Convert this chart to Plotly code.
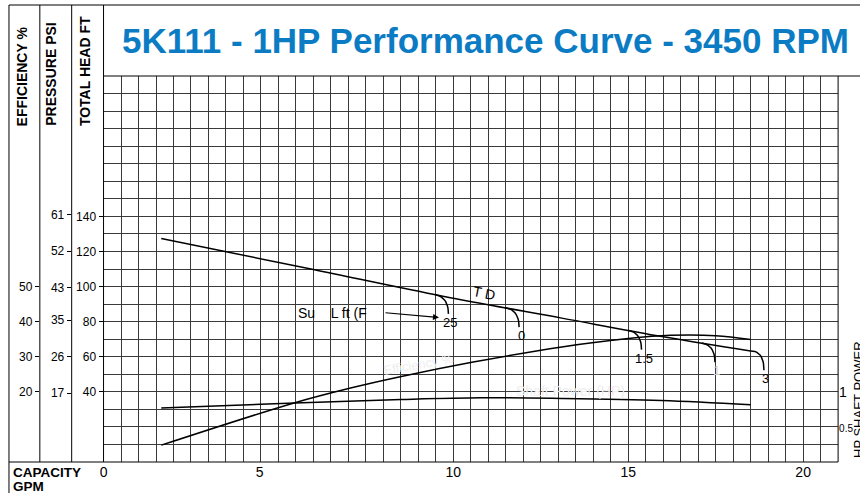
import numpy as np
import plotly.graph_objects as go

# ---------------- data ----------------
# Total dynamic head (ft) vs capacity (GPM)
HEAD_GPM = [1.65, 6.0, 9.7, 13.1, 16.0, 18.5]
HEAD_FT = [127.4, 109.7, 94.5, 82.0, 71.4, 63.3]

# Efficiency (%) vs capacity (GPM)
EFF_GPM = [1.65, 5.47, 7.03, 8.48, 10.53, 13.1, 15.0, 16.2, 17.5, 18.5]
EFF_PCT = [4.8, 16.9, 21.0, 24.3, 28.4, 32.8, 35.2, 36.1, 36.0, 34.9]

# Shaft power (HP) vs capacity (GPM)
HP_GPM = [1.65, 5.47, 8.5, 10.8, 13.1, 15.95, 18.5]
HP_VAL = [0.77, 0.84, 0.89, 0.915, 0.905, 0.875, 0.815]

# Suction-lift hooks on the head curve
HOOK_GPM = [9.48, 11.5, 15.0, 17.1, 18.5]
HOOK_LABELS = ["25", "0", "1.5", "1", "3"]

# axis ticks
X_TICK_VALS = [0, 4.46, 10, 15, 20]
X_TICK_TEXT = ["0", "5", "10", "15", "20"]
HEAD_TICKS = [40, 60, 80, 100, 120, 140]
EFF_TICKS = [20, 30, 40, 50]
PSI_TICKS = [17, 26, 35, 43, 52, 61]
HP_TICKS = [0.5, 1]
HP_TICK_TEXT = ['<span style="font-size:10px">0.5</span>', "1"]

TITLE = "5K111 - 1HP Performance Curve - 3450 RPM"

# ---------------- geometry helpers ----------------
W, H = 860, 493
FONT = "Liberation Sans, Arial, sans-serif"
GRID = "#3a3a3a"
HEAD_MAX = 220.0
FT_PER_PSI = 1 / 0.433


def px(x):
    return x / W


def py(y):
    return 1 - y / H


X0, X1 = 100, 838
Y0, Y1 = 462, 76

fig = go.Figure()

# main curves
fig.add_trace(go.Scatter(x=HEAD_GPM, y=HEAD_FT, mode="lines", line=dict(color="black", width=1.5, shape="spline"),
                         xaxis="x", yaxis="y", hoverinfo="skip"))
fig.add_trace(go.Scatter(x=EFF_GPM, y=EFF_PCT, mode="lines", line=dict(color="black", width=1.5, shape="spline"),
                         xaxis="x", yaxis="y2", hoverinfo="skip"))
fig.add_trace(go.Scatter(x=HP_GPM, y=HP_VAL, mode="lines", line=dict(color="black", width=1.5, shape="spline"),
                         xaxis="x", yaxis="y4", hoverinfo="skip"))

# suction lift hooks (quadratic bezier following the head curve then turning down)
DX, DROP = 0.38, 11.0
t = np.linspace(0, 1, 12)
annotations = []
for g, lab in zip(HOOK_GPM, HOOK_LABELS):
    h0 = float(np.interp(g, HEAD_GPM, HEAD_FT))
    h1 = float(np.interp(g + DX, HEAD_GPM, HEAD_FT))
    p0 = np.array([g, h0])
    p1 = np.array([g + DX, h1])
    p2 = np.array([g + DX, h0 - DROP])
    pts = ((1 - t) ** 2)[:, None] * p0 + (2 * (1 - t) * t)[:, None] * p1 + (t ** 2)[:, None] * p2
    fig.add_trace(go.Scatter(x=pts[:, 0], y=pts[:, 1], mode="lines", line=dict(color="black", width=1.5),
                             xaxis="x", yaxis="y", hoverinfo="skip"))
    annotations.append(dict(x=g + DX, y=h0 - DROP, xref="x", yref="y", text=lab, showarrow=False,
                            xanchor="center", yanchor="top", yshift=1, xshift=2,
                            font=dict(family=FONT, size=13, color="#cccccc" if lab == "1" else "black")))

# ---------------- text ----------------
annotations += [
    dict(x=px(483.5), y=py(41), xref="paper", yref="paper", text=TITLE, showarrow=False,
         xanchor="center", yanchor="middle",
         font=dict(family=FONT, size=35, color="#0b7cc4", weight="bold")),
    dict(x=px(18.5), y=py(128), xref="paper", yref="paper", text="EFFICIENCY %", textangle=-90,
         showarrow=False, xanchor="center", yanchor="bottom",
         font=dict(family=FONT, size=14, color="black", weight="bold")),
    dict(x=px(46.5), y=py(128), xref="paper", yref="paper", text="PRESSURE PSI", textangle=-90,
         showarrow=False, xanchor="center", yanchor="bottom",
         font=dict(family=FONT, size=14, color="black", weight="bold")),
    dict(x=px(81.5), y=py(128), xref="paper", yref="paper", text="TOTAL HEAD FT", textangle=-90,
         showarrow=False, xanchor="center", yanchor="bottom",
         font=dict(family=FONT, size=14, color="black", weight="bold")),
    dict(x=px(7), y=py(472), xref="paper", yref="paper", text="CAPACITY",
         showarrow=False, xanchor="left", yanchor="middle",
         font=dict(family=FONT, size=13.5, color="black", weight="bold")),
    dict(x=px(7), y=py(486), xref="paper", yref="paper", text="GPM",
         showarrow=False, xanchor="left", yanchor="middle",
         font=dict(family=FONT, size=13.5, color="black", weight="bold")),
    dict(x=px(858), y=py(400), xref="paper", yref="paper", text="HP SHAFT POWER", textangle=-90,
         showarrow=False, xanchor="center", yanchor="middle",
         font=dict(family=FONT, size=13, color="black")),
    # curve labels
    dict(x=px(293), y=py(313), xref="paper", yref="paper", text="Su\u00a0\u00a0\u00a0\u00a0L ft (F",
         showarrow=False, xanchor="left", yanchor="middle",
         font=dict(family=FONT, size=14, color="black")),
    dict(x=px(482), y=py(293), xref="paper", yref="paper", text="T D", textangle=11,
         showarrow=False, xanchor="center", yanchor="middle",
         font=dict(family=FONT, size=14, color="black")),
    dict(x=px(416), y=py(364), xref="paper", yref="paper", text="Efficiency %", textangle=-10,
         showarrow=False, xanchor="center", yanchor="middle",
         font=dict(family=FONT, size=13, color="#eeeeee")),
    dict(x=px(569), y=py(391), xref="paper", yref="paper", text="Shaft Power (HP)",
         showarrow=False, xanchor="center", yanchor="middle",
         font=dict(family=FONT, size=14, color="#eeeeee")),
    # suction lift arrow
    dict(x=9.59, y=82.3, xref="x", yref="y", text="", showarrow=True, ax=-55, ay=-5,
         arrowhead=2, arrowsize=1, arrowwidth=1.2, arrowcolor="black"),
]

# ---------------- frame lines ----------------
line = dict(color="black", width=1)
segs = [
    (5, 5, 860, 5), (X0, Y1, 860, Y1),
    (5, 5, 5, 493), (36, 5, 36, Y0), (68, 5, 68, Y0), (X0, 5, X0, Y0), (X1, Y1, X1, Y0),
    (5, Y0, X1, Y0),
]
shapes = [dict(type="line", xref="paper", yref="paper", x0=px(a), y0=py(b), x1=px(c), y1=py(d), line=line)
          for a, b, c, d in segs]

xdom = [px(X0), px(X1)]
ydom = [py(Y0), py(Y1)]

fig.update_layout(
    width=W, height=H, margin=dict(l=0, r=0, t=0, b=0), autosize=False,
    paper_bgcolor="white", plot_bgcolor="white", showlegend=False,
    font=dict(family=FONT, color="black"),
    xaxis=dict(domain=xdom, range=[0, 21], anchor="y", showticklabels=False, ticks="",
               tick0=0, dtick=0.5, showgrid=True, gridcolor=GRID, gridwidth=1,
               zeroline=False, showline=False, fixedrange=True),
    xaxis2=dict(domain=xdom, range=[0, 21], overlaying="x", anchor="y", side="bottom",
                tickvals=X_TICK_VALS, ticktext=X_TICK_TEXT, showgrid=False, zeroline=False,
                ticks="", tickfont=dict(size=14), showline=False),
    yaxis=dict(domain=ydom, range=[0, HEAD_MAX], anchor="x", tickvals=HEAD_TICKS, ticks="outside",
               ticklen=4, tickcolor="black", tickfont=dict(size=12), ticklabelstandoff=0,
               showgrid=True, gridcolor=GRID, gridwidth=1,
               minor=dict(dtick=10, tick0=0, showgrid=True, gridcolor=GRID, gridwidth=1, ticks=""),
               zeroline=False, showline=False),
    yaxis2=dict(domain=ydom, range=[0, HEAD_MAX / 2], overlaying="y", anchor="free", position=px(35),
                side="left", tickvals=EFF_TICKS, ticks="outside", ticklen=4, tickcolor="black",
                tickfont=dict(size=12), ticklabelstandoff=0, showgrid=False, zeroline=False, showline=False),
    yaxis3=dict(domain=ydom, range=[0, HEAD_MAX / FT_PER_PSI], overlaying="y", anchor="free",
                position=px(67), side="left", tickvals=PSI_TICKS, ticks="outside", ticklen=4,
                tickcolor="black", tickfont=dict(size=12), ticklabelstandoff=0,
                showgrid=False, zeroline=False, showline=False),
    yaxis4=dict(domain=ydom, range=[0, HEAD_MAX / 40], overlaying="y", anchor="x", side="right",
                tickvals=HP_TICKS, ticktext=HP_TICK_TEXT, ticks="", tickfont=dict(size=14),
                showgrid=False, zeroline=False, showline=False),
    annotations=annotations,
    shapes=shapes,
)

# dummy trace to activate x2 and y3 axes
fig.add_trace(go.Scatter(x=[None], y=[None], xaxis="x2", yaxis="y3", showlegend=False, hoverinfo="skip"))

fig.write_html(
    "out.html",
    config={"displayModeBar": False},
    post_script="document.body.style.margin='0';document.body.style.overflow='hidden';",
)
